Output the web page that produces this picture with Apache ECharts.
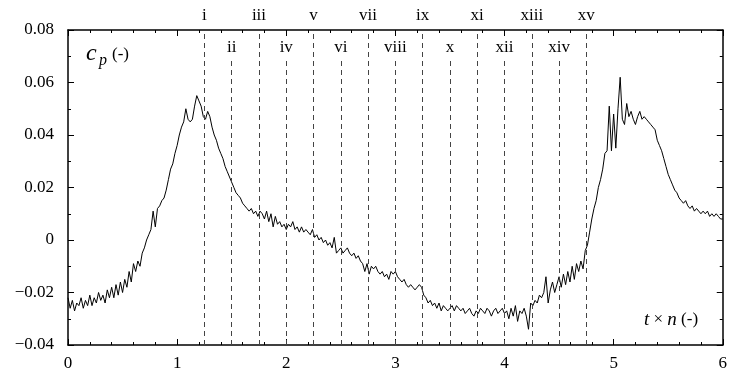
<!DOCTYPE html>
<html>
<head>
<meta charset="utf-8">
<script src="https://cdn.jsdelivr.net/npm/echarts@6/dist/echarts.min.js"></script>
<style>
  html, body { margin: 0; padding: 0; background: #fff; }
  #chart { width: 730px; height: 376px; }
</style>
</head>
<body>
<div id="chart"></div>
<script>
// sampled every 0.02 of t x n, from 0 to 6
const tStep = 0.02;
const cpValues = [
  -0.022, -0.026, -0.023, -0.027, -0.024, -0.025, -0.022, -0.026, -0.023, -0.025,
  -0.021, -0.025, -0.022, -0.024, -0.020, -0.023, -0.021, -0.024, -0.019, -0.022,
  -0.018, -0.022, -0.017, -0.021, -0.016, -0.020, -0.015, -0.018, -0.012, -0.016,
  -0.009, -0.012, -0.008, -0.010, -0.005, -0.003, 0.000, 0.002, 0.004, 0.011,
  0.005, 0.012, 0.013, 0.015, 0.016, 0.019, 0.023, 0.027, 0.029, 0.033,
  0.036, 0.040, 0.043, 0.045, 0.050, 0.046, 0.045, 0.046, 0.051, 0.055,
  0.053, 0.051, 0.047, 0.046, 0.049, 0.047, 0.043, 0.040, 0.038, 0.035,
  0.033, 0.031, 0.028, 0.026, 0.024, 0.022, 0.020, 0.018, 0.017, 0.016,
  0.014, 0.013, 0.012, 0.011, 0.012, 0.010, 0.011, 0.009, 0.011, 0.010,
  0.008, 0.011, 0.007, 0.010, 0.005, 0.009, 0.006, 0.007, 0.005, 0.006,
  0.004, 0.006, 0.005, 0.007, 0.004, 0.005, 0.003, 0.005, 0.003, 0.004,
  0.003, 0.002, 0.004, 0.001, 0.002, 0.000, 0.001, -0.001, 0.000, -0.002,
  -0.001, -0.003, 0.001, -0.005, -0.004, -0.003, -0.005, -0.004, -0.003, -0.005,
  -0.006, -0.005, -0.007, -0.006, -0.008, -0.009, -0.012, -0.009, -0.013, -0.010,
  -0.011, -0.010, -0.012, -0.013, -0.012, -0.014, -0.013, -0.015, -0.012, -0.013,
  -0.012, -0.014, -0.015, -0.016, -0.015, -0.017, -0.018, -0.017, -0.018, -0.019,
  -0.018, -0.017, -0.018, -0.021, -0.022, -0.024, -0.023, -0.025, -0.024, -0.026,
  -0.024, -0.027, -0.025, -0.026, -0.027, -0.026, -0.025, -0.027, -0.025, -0.026,
  -0.027, -0.026, -0.028, -0.027, -0.026, -0.028, -0.029, -0.027, -0.028, -0.026,
  -0.027, -0.028, -0.026, -0.027, -0.029, -0.027, -0.026, -0.028, -0.027, -0.026,
  -0.028, -0.027, -0.030, -0.026, -0.029, -0.025, -0.031, -0.027, -0.028, -0.026,
  -0.029, -0.034, -0.024, -0.025, -0.023, -0.024, -0.021, -0.022, -0.020, -0.014,
  -0.024, -0.019, -0.016, -0.020, -0.017, -0.014, -0.018, -0.013, -0.017, -0.012,
  -0.016, -0.010, -0.015, -0.009, -0.012, -0.008, -0.011, -0.004, -0.002, 0.003,
  0.008, 0.012, 0.015, 0.020, 0.023, 0.027, 0.033, 0.034, 0.051, 0.034,
  0.048, 0.035, 0.050, 0.062, 0.046, 0.044, 0.052, 0.047, 0.049, 0.046,
  0.044, 0.047, 0.049, 0.046, 0.047, 0.046, 0.045, 0.044, 0.043, 0.042,
  0.038, 0.036, 0.034, 0.031, 0.028, 0.025, 0.023, 0.021, 0.019, 0.018,
  0.016, 0.015, 0.014, 0.015, 0.013, 0.012, 0.013, 0.011, 0.012, 0.011,
  0.010, 0.011, 0.010, 0.011, 0.009, 0.010, 0.009, 0.010, 0.009, 0.008,
  0.008
];
const markerPositions = [1.25, 1.5, 1.75, 2, 2.25, 2.5, 2.75, 3, 3.25, 3.5, 3.75, 4, 4.25, 4.5, 4.75];
const markerLabels = ['i', 'ii', 'iii', 'iv', 'v', 'vi', 'vii', 'viii', 'ix', 'x', 'xi', 'xii', 'xiii', 'xiv', 'xv'];
const yTicks = [-0.04, -0.02, 0, 0.02, 0.04, 0.06, 0.08];

const serif = 'Liberation Serif';
const seriesData = cpValues.map((v, i) => [+(i * tStep).toFixed(2), v]);

// odd numerals sit above the frame, even ones just inside it
const markData = markerPositions.map((x, i) => {
  const top = i % 2 === 0 ? 0.08 : 0.0686;
  return [
    { coord: [x, -0.04] },
    {
      coord: [x, top], name: markerLabels[i],
      label: { distance: i % 2 === 0 ? 6 : 4 }
    }
  ];
});

function xAxisDef(pos, showLabel) {
  return {
    type: 'value', min: 0, max: 6, interval: 1, position: pos,
    axisLine: { show: true, onZero: false, lineStyle: { color: '#000', width: 1.5 } },
    axisTick: { show: true, inside: true, length: 6, lineStyle: { color: '#000' } },
    minorTick: { show: true, splitNumber: 5, length: 3, lineStyle: { color: '#000' } },
    splitLine: { show: false },
    axisLabel: { show: showLabel, color: '#000', fontFamily: serif, fontSize: 17, margin: 10 }
  };
}
function yAxisDef(pos, showLabel) {
  return {
    type: 'value', min: yTicks[0], max: yTicks[yTicks.length - 1], interval: 0.02, position: pos,
    axisLine: { show: true, onZero: false, lineStyle: { color: '#000', width: 1.5 } },
    axisTick: { show: true, inside: true, length: 6, lineStyle: { color: '#000' } },
    minorTick: { show: true, splitNumber: 2, length: 3, lineStyle: { color: '#000' } },
    splitLine: { show: false },
    axisLabel: {
      show: showLabel, color: '#000', fontFamily: serif, fontSize: 17, margin: 14,
      formatter: v => {
        if (Math.abs(v) < 1e-9) return '0';
        return (v < 0 ? '\u2212' : '') + Math.abs(v).toFixed(2);
      }
    }
  };
}

const chart = echarts.init(document.getElementById('chart'));
chart.setOption({
  animation: false,
  backgroundColor: '#fff',
  grid: { left: 68, right: 2, top: 30, bottom: 31 },
  xAxis: [xAxisDef('bottom', true), xAxisDef('top', false)],
  yAxis: [yAxisDef('left', true), yAxisDef('right', false)],
  graphic: [
    { type: 'text', left: 86, top: 42, style: { text: 'c', fontFamily: serif, fontStyle: 'italic', fontSize: 24, fill: '#000' } },
    { type: 'text', left: 99, top: 53, style: { text: 'p', fontFamily: serif, fontStyle: 'italic', fontSize: 16, fill: '#000' } },
    { type: 'text', left: 112, top: 46, style: { text: '(-)', fontFamily: serif, fontSize: 17, fill: '#000' } },
    {
      type: 'text', left: 644, top: 310,
      style: {
        text: '{i|t} × {i|n} (-)',
        fontFamily: serif, fontSize: 17, fill: '#000',
        rich: { i: { fontStyle: 'italic', fontFamily: serif, fontSize: 19, fill: '#000' } }
      }
    }
  ],
  series: [{
    type: 'line',
    data: seriesData,
    showSymbol: false,
    symbol: 'none',
    lineStyle: { color: '#000', width: 1 },
    markLine: {
      silent: true,
      symbol: ['none', 'none'],
      lineStyle: { type: [5, 4], color: '#444', width: 1 },
      label: {
        show: true, position: 'end', formatter: p => p.name,
        color: '#000', fontFamily: serif, fontSize: 17
      },
      data: markData
    }
  }]
});
</script>
</body>
</html>
